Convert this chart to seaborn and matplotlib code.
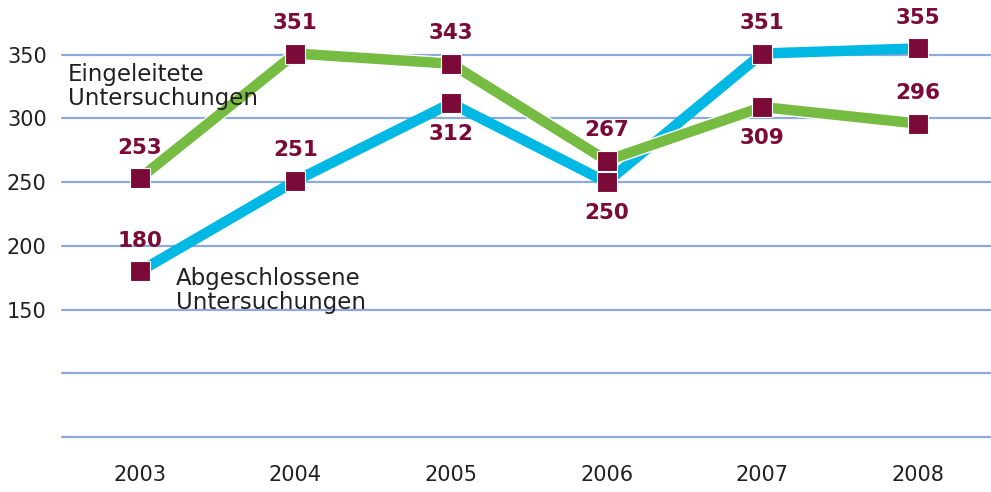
import matplotlib
matplotlib.use("Agg")
import matplotlib.pyplot as plt
import matplotlib.patheffects as pe
import seaborn as sns
import pandas as pd

years = [2003, 2004, 2005, 2006, 2007, 2008]
eingeleitete = [253, 351, 343, 267, 309, 296]
abgeschlossene = [180, 251, 312, 250, 351, 355]
# label above (+1) or below (-1) the marker
pos_eing = [1, 1, 1, 1, -1, 1]
pos_abg = [1, 1, -1, -1, 1, 1]
y_ticks = [150, 200, 250, 300, 350]
grid_lines = [50, 100, 150, 200, 250, 300, 350]

green = "#76bc43"
blue = "#00b8e4"
maroon = "#7b0a38"
text_col = "#231f20"
grid_col = "#8eaadb"

sns.set_style("white")
plt.rcParams['font.family'] = ['DejaVu Sans']

fig = plt.figure(figsize=(9.91, 4.92), dpi=100)
ax = fig.add_axes([62 / 991, 55 / 492, 1 - 62 / 991, 437 / 492])

for g in grid_lines:
    ax.axhline(g, color=grid_col, lw=1.6, zorder=0, clip_on=False)

df = pd.DataFrame({"Jahr": years, "Eingeleitete": eingeleitete, "Abgeschlossene": abgeschlossene})

sns.lineplot(data=df, x="Jahr", y="Abgeschlossene", ax=ax, color=blue, lw=7.5, zorder=3)
sns.lineplot(data=df, x="Jahr", y="Eingeleitete", ax=ax, color=green, lw=7.5, zorder=4,
             path_effects=[pe.Stroke(linewidth=9.5, foreground="white"), pe.Normal()])
# square markers on top of both lines
for vals in (abgeschlossene, eingeleitete):
    ax.plot(years, vals, ls="none", marker="s", ms=15, mfc=maroon, mec="white", mew=0.8, zorder=5)

for vals, pos in [(eingeleitete, pos_eing), (abgeschlossene, pos_abg)]:
    for x, v, p in zip(years, vals, pos):
        ax.annotate(str(v), (x, v), xytext=(0, 22 * p), textcoords="offset points",
                    ha="center", va="center", color=maroon, fontsize=15.5, fontweight="bold",
                    zorder=6)

ax.text(2002.54, 325, "Eingeleitete\nUntersuchungen", color=text_col, fontsize=16.5,
        va="center", ha="left", linespacing=1.05, zorder=7)
ax.text(2003.23, 165, "Abgeschlossene\nUntersuchungen", color=text_col, fontsize=16.5,
        va="center", ha="left", linespacing=1.05, zorder=7)

ax.set_xlim(2002.5, 2008.47)
ax.set_ylim(50, 393)
ax.set_xticks(years)
ax.set_xticklabels([str(y) for y in years])
ax.set_yticks(y_ticks)
ax.tick_params(axis="both", length=0, labelsize=15, colors=text_col)
ax.tick_params(axis="x", pad=20)
ax.tick_params(axis="y", pad=11)
ax.set_xlabel("")
ax.set_ylabel("")
for s in ax.spines.values():
    s.set_visible(False)

fig.savefig("out.png", dpi=100)
